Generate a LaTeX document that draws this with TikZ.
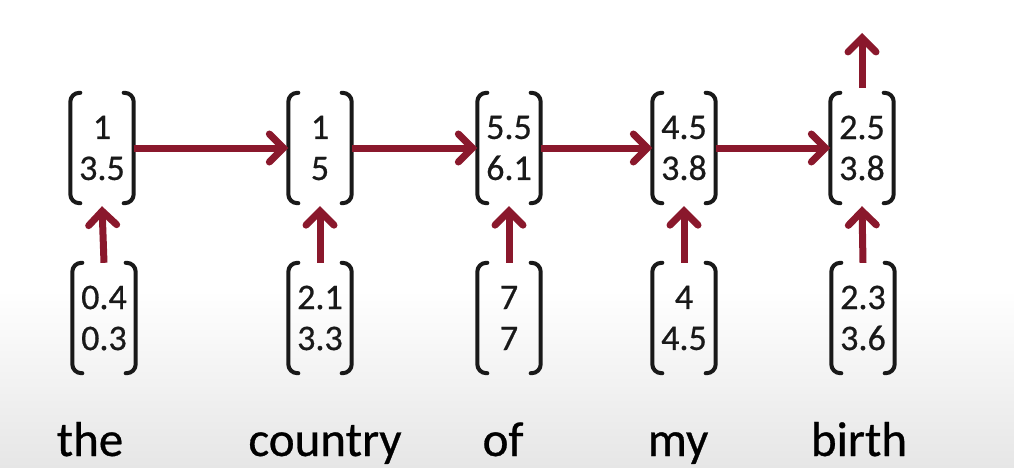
\documentclass[tikz,border=0pt]{standalone}
\usepackage{fontspec}
\setmainfont{Carlito}
\newfontfamily\numfont[FakeBold=0.6]{Carlito}
\usetikzlibrary{arrows.meta,calc}
\definecolor{arr}{RGB}{138,24,44}
\definecolor{bggray}{RGB}{230,230,230}
\tikzset{
  vecbox/.style={inner sep=0pt, minimum width=63pt, minimum height=110pt,
    align=center, font=\numfont\fontsize{36}{41}\selectfont, text=black!90},
  bracketline/.style={line width=4pt, line cap=round, rounded corners=9pt, black!90},
  conn/.style={draw=arr, line width=7pt, -{Straight Barb[length=14pt,width=28pt,line width=7pt,line cap=round]}},
  word/.style={anchor=base, font=\numfont\fontsize{49}{52}\selectfont, text=black}
}
\begin{document}
\begin{tikzpicture}[x=1pt,y=-1pt]
\useasboundingbox (0,0) rectangle (1014,468);
\fill[white] (0,0) rectangle (1014,468);
\shade[top color=white, bottom color=bggray] (0,290) rectangle (1014,468);

% hidden vectors
\node[vecbox] (h1) at (102,148) {1\\3.5};
\node[vecbox] (h2) at (320,148) {1\\5};
\node[vecbox] (h3) at (509,148) {5.5\\6.1};
\node[vecbox] (h4) at (684,148) {4.5\\3.8};
\node[vecbox] (h5) at (862,148) {2.5\\3.8};
% input vectors
\node[vecbox] (x1) at (104,318) {0.4\\0.3};
\node[vecbox] (x2) at (320,318) {2.1\\3.3};
\node[vecbox] (x3) at (509,318) {7\\7};
\node[vecbox] (x4) at (684,318) {4\\4.5};
\node[vecbox] (x5) at (863,318) {2.3\\3.6};

\foreach \n in {h1,h2,h3,h4,h5,x1,x2,x3,x4,x5}{
  \draw[bracketline] ($(\n.north west)+(10,0)$) -- (\n.north west) -- (\n.south west) -- ($(\n.south west)+(10,0)$);
  \draw[bracketline] ($(\n.north east)+(-10,0)$) -- (\n.north east) -- (\n.south east) -- ($(\n.south east)+(-10,0)$);
}

% words
\node[word] (w1) at (90,456) {the};
\node[word] (w2) at (325,456) {country};
\node[word] (w3) at (503,456) {of};
\node[word] (w4) at (678,456) {my};
\node[word] (w5) at (859,456) {birth};

\coordinate (out) at (862,33);

% connectors
\draw[conn] (h1.east) -- (h2.west);
\draw[conn] (h2.east) -- (h3.west);
\draw[conn] (h3.east) -- (h4.west);
\draw[conn] (h4.east) -- (h5.west);
\draw[conn] (x1.north) -- ([yshift=-3pt]h1.south);
\draw[conn] (x2.north) -- ([yshift=-3pt]h2.south);
\draw[conn] (x3.north) -- ([yshift=-3pt]h3.south);
\draw[conn] (x4.north) -- ([yshift=-3pt]h4.south);
\draw[conn] (x5.north) -- ([yshift=-3pt]h5.south);
\draw[conn, shorten <=5pt] (h5.north) -- (out);
\end{tikzpicture}
\end{document}
